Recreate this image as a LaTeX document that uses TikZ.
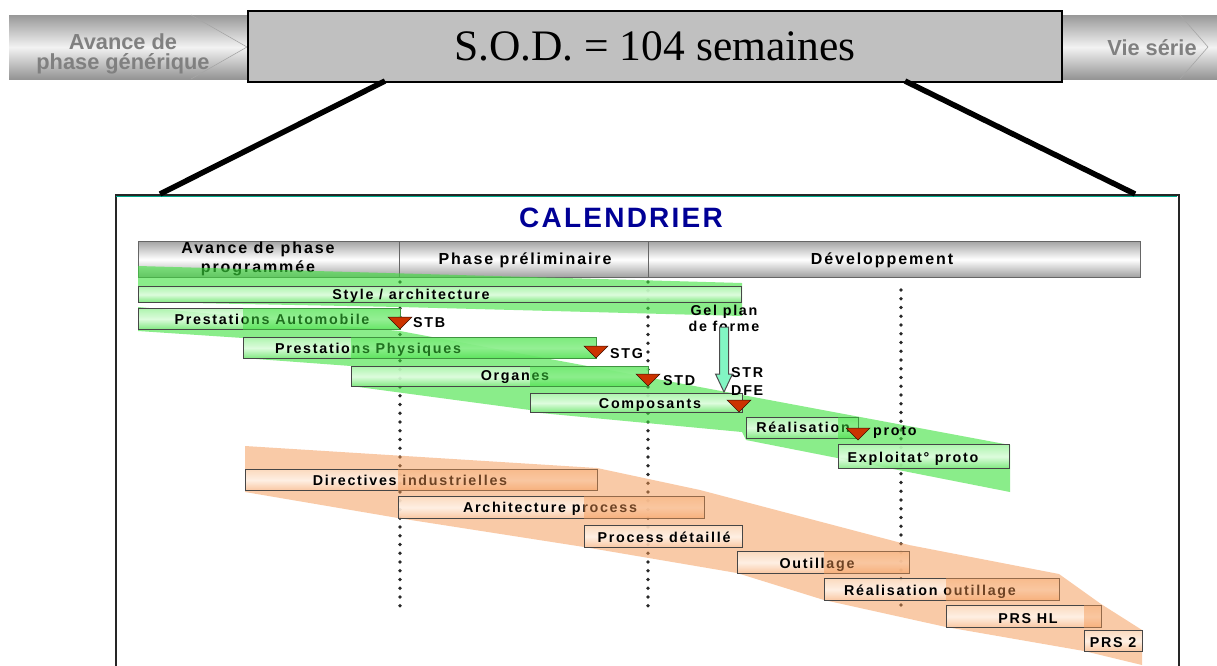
\documentclass[tikz,border=0pt]{standalone}
\usepackage{fontspec}
\setmainfont{Liberation Sans}
\newfontfamily\sodfont{Liberation Serif}
\newfontfamily\trackfont[LetterSpace=12]{Liberation Sans}
\newfontfamily\titlefont[LetterSpace=8]{Liberation Sans}

\definecolor{bandgreen}{RGB}{60,225,60}
\definecolor{bandorange}{RGB}{245,150,80}
\definecolor{gtop}{RGB}{182,246,182}
\definecolor{gmid}{RGB}{236,255,236}
\definecolor{gbot}{RGB}{125,232,125}
\definecolor{otop}{RGB}{252,222,196}
\definecolor{omid}{RGB}{255,246,238}
\definecolor{obot}{RGB}{250,198,160}
\definecolor{boxline}{RGB}{70,70,70}
\definecolor{mkred}{RGB}{204,51,0}
\definecolor{calblue}{RGB}{0,0,150}
\definecolor{frameteal}{RGB}{0,170,140}
\definecolor{arrowaqua}{RGB}{130,245,195}
\definecolor{sodgray}{RGB}{192,192,192}
\definecolor{dotgray}{RGB}{40,40,40}

% task bar: style, name, x1, y1, x2, y2, label, label position
\newcommand\taskbar[8]{%
  \node[#1, minimum width={#5-#3}, minimum height={#6-#4}, anchor=north west] (#2) at (#3,#4) {};
  \node[lbl] (#2-t) at #8 {#7};}

\begin{document}
\begin{tikzpicture}[x=1pt,y=-1pt,
  sideband/.style={inner sep=0, top color=black!40, bottom color=black!42, middle color=black!5},
  chev/.style={draw=black!35, line width=0.6pt},
  sidetxt/.style={font=\bfseries\fontsize{21.8}{19.5}\selectfont, text=black!50, align=center, inner sep=0},
  sodbox/.style={draw=black, line width=1.6pt, fill=sodgray, inner sep=0,
    font=\sodfont\fontsize{43.5}{45}\selectfont},
  zoomline/.style={line width=5.5pt, black},
  calframe/.style={draw=black!85, line width=1.6pt, fill=white, inner sep=0},
  hdrcell/.style={draw=black!60, line width=1pt, inner sep=0,
    top color=black!35, bottom color=black!38, middle color=white},
  hdrtxt/.style={font=\trackfont\bfseries\fontsize{16}{19.5}\selectfont, align=center, inner sep=0},
  lbl/.style={font=\trackfont\bfseries\fontsize{14.3}{15.5}\selectfont, inner sep=0, yshift=-1.5pt},
  gbar/.style={draw=boxline, line width=1.1pt, inner sep=0, fill opacity=0.85,
    top color=gtop, bottom color=gbot, middle color=gmid},
  obar/.style={draw=boxline, line width=1.1pt, inner sep=0, fill opacity=0.85,
    top color=otop, bottom color=obot, middle color=omid},
  gribbon/.style={fill=bandgreen, fill opacity=0.6},
  oribbon/.style={fill=bandorange, fill opacity=0.5},
  gfront/.style={fill=bandgreen, fill opacity=0.5},
  ofront/.style={fill=bandorange, fill opacity=0.45},
  dotline/.style={dotgray, line width=3.8pt, line cap=round, dash pattern=on 0pt off 8.75pt},
  marker/.style={fill=mkred, draw=black!70!mkred, line width=0.5pt},
  gelarrow/.style={fill=arrowaqua, draw=black!70, line width=1pt},
]
\useasboundingbox (0,0) rectangle (1217,665);

% ---- phase strip on top ----
\node[sideband, minimum width=240, minimum height=64, anchor=north west] (generic) at (9,15) {};
\node[sideband, minimum width=160, minimum height=64, anchor=north west] (serie) at (1057,15) {};
\draw[chev] (191,15) -- (247,47) -- (191,79);
\draw[chev] (1180,15) -- (1208,47) -- (1180,79);
\node[sidetxt] (generic-t) at (123,54) {Avance de\\phase générique};
\node[sidetxt] (serie-t) at (1152,48) {Vie série};

\node[sodbox, minimum width=814, minimum height=71, anchor=north west] (sod) at (247,10) {S.O.D. = 104 semaines};

% ---- calendar frame and zoom lines ----
\node[calframe, minimum width=1063, minimum height=490, anchor=north west] (cal) at (115,194) {};
\draw[frameteal, line width=1.2pt] (116,196.5) -- (1177,196.5);
\coordinate (zl1) at (385,81);
\coordinate (zl2) at (160,194);
\coordinate (zr1) at (905,81);
\coordinate (zr2) at (1135,194);
\draw[zoomline] (zl1) -- (zl2);
\draw[zoomline] (zr1) -- (zr2);

\node[font=\titlefont\bfseries\fontsize{28}{30}\selectfont, text=calblue, inner sep=0] (title) at (621,218) {CALENDRIER};

% ---- phase header ----
\node[hdrcell, minimum width=261, minimum height=36, anchor=north west] (h1) at (138,241) {};
\node[hdrcell, minimum width=249, minimum height=36, anchor=north west] (h2) at (399,241) {};
\node[hdrcell, minimum width=492, minimum height=36, anchor=north west] (h3) at (648,241) {};
\node[hdrtxt] (h1-t) at (258,259) {Avance de phase\\programmée};
\node[hdrtxt] (h2-t) at (525,260) {Phase préliminaire};
\node[hdrtxt] (h3-t) at (882,260) {Développement};

% ---- milestone dotted lines ----
\coordinate (d1a) at (400,282); \coordinate (d1b) at (400,607);
\coordinate (d2a) at (648,282); \coordinate (d2b) at (648,607);
\coordinate (d3a) at (901,290); \coordinate (d3b) at (901,607);
\draw[dotline] (d1a) -- (d1b);
\draw[dotline] (d2a) -- (d2b);
\draw[dotline] (d3a) -- (d3b);

% ---- ribbons behind the bars ----
\path[gribbon] (138,266) -- (742,283) -- (742,316) -- (400,307) -- (138,302) -- cycle;
\path[gribbon] (138,307) -- (400,331) -- (1010,445) -- (1010,492) -- (746,440) -- (742,432)
  -- (530,412) -- (530,410) -- (351,386) -- (351,366) -- (243,358) -- (243,338) -- (138,331) -- cycle;
\path[oribbon] (245,446) -- (597,468) -- (700,490) -- (909,545) -- (1059,574)
  -- (1101,604) -- (1142,630) -- (1142,665) -- (1084,651) -- (946,627) -- (824,600)
  -- (737,573) -- (584,547) -- (398,518) -- (245,492) -- cycle;

% ---- design tasks ----
\taskbar{gbar}{style}{138}{286}{741}{302}{Style / architecture}{(411,294)}
\taskbar{gbar}{pauto}{138}{308}{400}{329}{Prestations Automobile}{(272,318)}
\taskbar{gbar}{pphys}{243}{337}{596}{358}{Prestations Physiques}{(368,348)}
\taskbar{gbar}{organes}{351}{366}{648}{386}{Organes}{(515,376)}
\taskbar{gbar}{compo}{530}{393}{742}{412}{Composants}{(650,403)}
\taskbar{gbar}{realis}{746}{417}{858}{438}{Réalisation}{(803,426)}
\taskbar{gbar}{exploit}{838}{444}{1009}{468}{Exploitat° proto}{(913,457)}

% ---- industrial tasks ----
\taskbar{obar}{direct}{245}{469}{597}{490}{Directives industrielles}{(410,479)}
\taskbar{obar}{archp}{398}{496}{704}{518}{Architecture process}{(550,507)}
\taskbar{obar}{procd}{584}{525}{742}{547}{Process détaillé}{(664,536)}
\taskbar{obar}{outil}{737}{551}{909}{573}{Outillage}{(817,563)}
\taskbar{obar}{realo}{824}{578}{1059}{600}{Réalisation outillage}{(930,590)}
\taskbar{obar}{prshl}{946}{605}{1101}{627}{PRS HL}{(1028,617)}
\taskbar{obar}{prs2}{1084}{630}{1142}{651}{PRS 2}{(1113,641)}

% ---- ribbon passing in front of the preceding bar ----
\path[gfront] (pphys.west |- pauto.north) rectangle (pauto.south east);
\path[gfront] (organes.west |- pphys.north) rectangle (pphys.south east);
\path[gfront] (compo.west |- organes.north) rectangle (organes.south east);
\path[gfront] (exploit.west |- realis.north) rectangle (realis.south east);
\path[ofront] (archp.west |- direct.north) rectangle (direct.south east);
\path[ofront] (procd.west |- archp.north) rectangle (archp.south east);
\path[ofront] (realo.west |- outil.north) rectangle (outil.south east);
\path[ofront] (prshl.west |- realo.north) rectangle (realo.south east);
\path[ofront] (prs2.west |- prshl.north) rectangle (prshl.south east);

% ---- milestones ----
\coordinate (mstb) at (400,329);
\coordinate (mstg) at (596,358);
\coordinate (mstd) at (648,386);
\coordinate (mdfe) at (739,412);
\coordinate (mproto) at (858,440);
\foreach \m in {mstb,mstg,mstd,mdfe,mproto}
  \draw[marker, shift={(\m)}] (-12,-12) -- (12,-12) -- (0,0) -- cycle;
\node[lbl, anchor=west] (stb) at (413,321) {STB};
\node[lbl, anchor=west] (stg) at (610,352) {STG};
\node[lbl, anchor=west] (std) at (663,379) {STD};
\node[lbl, anchor=west] (proto) at (873,431) {proto};
\node[lbl, anchor=west] (str) at (731,371) {STR};
\node[lbl, anchor=west] (dfe) at (731,389) {DFE};

% ---- frozen shape plan ----
\node[lbl, align=center] (gel) at (724,317) {Gel plan\\de forme};
\coordinate (geltip) at (724,392);
\draw[gelarrow, shift={(geltip)}] (-4.5,-65) -- (4.5,-65) -- (4.5,-18) -- (8.5,-18)
  -- (0,0) -- (-8.5,-18) -- (-4.5,-18) -- cycle;
\end{tikzpicture}
\end{document}
